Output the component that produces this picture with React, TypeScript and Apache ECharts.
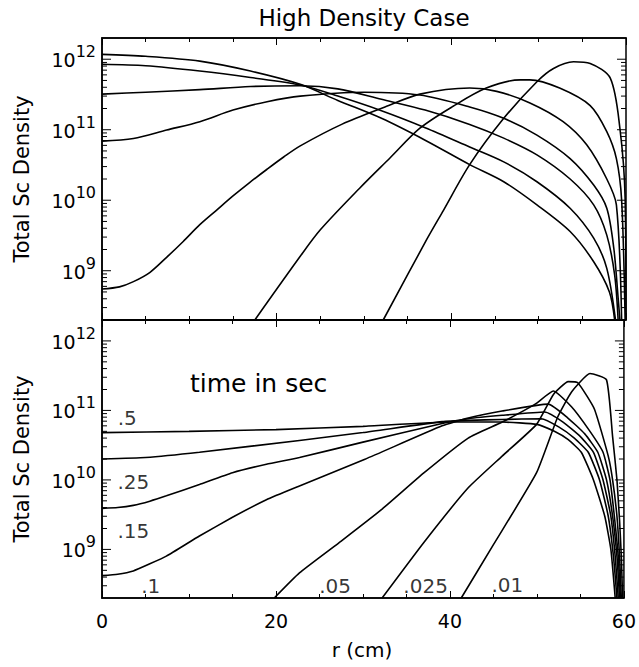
import React, { useEffect, useRef } from 'react';
import * as echarts from 'echarts';

// ---------- data: [r (cm), total Sc density] ----------
// High density case (upper panel)
const topT05: [number, number][] = [[0,1.17e12],[5,1.1e12],[11.2,9.4e11],[17,6.8e11],[22.7,4.4e11],[27,2.6e11],[32,1.45e11],[37,7.1e10],[42.1,3.2e10],[46,1.83e10],[49.8,8.6e9],[53.6,3.6e9],[56.3,1.34e9],[58.1,5.0e8],[58.7,2e8]];
const topT025: [number, number][] = [[0,8.5e11],[5,8.1e11],[11.2,6.8e11],[17,5.5e11],[22.7,4.3e11],[27,3.0e11],[32,1.86e11],[37,1.07e11],[42.1,5.7e10],[46,3.5e10],[49.8,1.83e10],[53.6,7.7e9],[56.3,2.9e9],[57.8,1.08e9],[58.8,2e8]];
const topT015: [number, number][] = [[0,3.2e11],[5,3.4e11],[11.2,3.7e11],[17,4.1e11],[22.7,4.2e11],[27,3.8e11],[32,2.7e11],[37,1.9e11],[42.1,1.19e11],[46,7.6e10],[49.8,4.4e10],[53.6,2.0e10],[56.3,8.6e9],[57.8,3.2e9],[58.7,8.7e8],[59.1,2e8]];
const topT01: [number, number][] = [[0,6.9e10],[3.6,7.5e10],[7.4,9.9e10],[11.2,1.3e11],[15,1.9e11],[18.9,2.5e11],[22.7,3.0e11],[30,3.4e11],[36.4,3.1e11],[42.1,2.1e11],[46,1.45e11],[49.8,8.4e10],[53.6,3.9e10],[56.3,1.64e10],[57.8,7.7e9],[58.6,2.1e9],[59.1,4.1e8],[59.3,2e8]];
const topT005: [number, number][] = [[0,5.5e8],[2,5.9e8],[3.6,7.0e8],[5.5,9.5e8],[7.4,1.55e9],[9.3,2.6e9],[11.2,4.5e9],[13.1,7.2e9],[15,1.15e10],[16.9,1.78e10],[18.9,2.75e10],[20.8,4.1e10],[22.7,5.9e10],[27.5,1.2e11],[32.4,2.1e11],[36.4,3.2e11],[42.1,3.9e11],[45.2,3.5e11],[49,2.4e11],[52.8,1.3e11],[55.5,6.1e10],[57.8,2.0e10],[58.9,8.6e9],[59.5,2e8]];
const topT0025: [number, number][] = [[17.5,2e8],[22.7,1.6e9],[25,3.8e9],[29.5,1.48e10],[33,4.0e10],[36.4,1.05e11],[40.2,2.15e11],[44,3.9e11],[47.9,5.1e11],[49,5.1e11],[52.4,3.9e11],[55.9,2.2e11],[57.8,9.4e10],[58.9,3.9e10],[59.5,1.0e10],[59.9,2e8]];
const topT001: [number, number][] = [[32.2,2e8],[37.2,2.8e9],[39.1,7.2e9],[42.1,3.2e10],[46,1.45e11],[49.8,4.8e11],[51.7,7.4e11],[54,9.2e11],[55.9,8.7e11],[58.2,5.4e11],[59.3,1.05e11],[59.9,1.07e10],[60,2e8]];

// lower panel
const botT05: [number, number][] = [[0,4.8e10],[10,5.0e10],[20,5.3e10],[30,5.9e10],[40,6.8e10],[46,6.8e10],[50,6.3e10],[52,5.0e10],[53.6,3.8e10],[55.1,2.5e10],[56.5,1.0e10],[57.8,3.0e9],[58.5,1.0e9],[59.0,2e8]];
const botT025: [number, number][] = [[0,2.0e10],[5,2.1e10],[11.2,2.5e10],[22.7,3.7e10],[30,4.8e10],[39.1,6.9e10],[42.1,7.2e10],[46,7.4e10],[50.5,7.6e10],[52.5,5.8e10],[54.3,4.0e10],[55.9,2.5e10],[57.2,1.0e10],[58.2,3.0e9],[58.8,7.9e8],[59.2,2e8]];
const botT015: [number, number][] = [[0,3.9e9],[1.8,4.0e9],[3.6,4.3e9],[5.5,4.95e9],[7.4,5.9e9],[11.2,8.6e9],[15,1.27e10],[18.9,1.68e10],[22.7,2.1e10],[30,3.5e10],[39.1,6.5e10],[42.1,7.6e10],[46,8.5e10],[50.9,9.5e10],[53,6.8e10],[55,4.2e10],[56.5,2.5e10],[57.6,1.0e10],[58.5,3.0e9],[59.0,7.9e8],[59.35,2e8]];
const botT01: [number, number][] = [[0,4.2e8],[1.8,4.4e8],[3.6,4.9e8],[5.5,6.2e8],[7.4,8.0e8],[11.2,1.56e9],[15,2.9e9],[18.9,5.2e9],[22.7,8.2e9],[30.3,2.0e10],[39.1,6.0e10],[42.1,7.8e10],[46,9.8e10],[51.3,1.23e11],[53.5,7.9e10],[55.5,4.6e10],[57,2.5e10],[58,1.0e10],[58.7,3.0e9],[59.2,7.9e8],[59.5,2e8]];
const botT005: [number, number][] = [[19.8,2e8],[22.7,4.6e8],[27.5,1.32e9],[32.2,3.8e9],[37,1.26e10],[42.1,4.0e10],[46,6.8e10],[49.8,1.23e11],[51.9,1.9e11],[54,1.12e11],[56,5.2e10],[57.6,2.5e10],[58.4,1.0e10],[58.9,3.0e9],[59.35,7.9e8],[59.6,2e8]];
const botT0025: [number, number][] = [[32.2,2e8],[37,1.26e9],[42.1,7.7e9],[46,2.2e10],[49.96,6.3e10],[51.9,1.7e11],[53.6,2.6e11],[54.7,2.5e11],[56.6,1.05e11],[58.2,2.2e10],[58.7,1.0e10],[59.2,3.0e9],[59.5,7.9e8],[59.7,2e8]];
const botT001: [number, number][] = [[41.3,2e8],[45,1.17e9],[49.96,1.27e10],[52.4,8.1e10],[54,1.86e11],[56.1,3.4e11],[58.0,2.75e11],[58.7,4.2e10],[59.2,1.0e10],[59.5,2.6e9],[59.7,7.9e8],[59.85,2e8]];

// time labels (seconds) in lower panel and where they sit
const timeLabels = ['.5', '.25', '.15', '.1', '.05', '.025', '.01'];
const timeLabelR = [2.9, 3.6, 3.6, 5.6, 26.8, 37.2, 46.6];
const timeLabelDensity = [7.8e10, 9.3e9, 1.84e9, 3.0e8, 3.0e8, 3.0e8, 3.05e8];

const xTicks = [0, 20, 40, 60];
const yMin = 2e8;
const yMax = 2e12;
const titleText = 'High Density Case';
const yTitle = 'Total Sc Density';
const xTitle = 'r (cm)';
const noteText = 'time in sec';

const FONT = '"DejaVu Sans", sans-serif';

export default function App() {
  const ref = useRef<HTMLDivElement>(null);
  useEffect(() => {
    if (!ref.current) return;
    const chart = echarts.init(ref.current, undefined, { renderer: 'svg' });

    const GL = 102, GW = 524;
    const grids = [
      { left: GL, top: 38, width: GW, height: 282 },
      { left: GL, top: 320, width: GW, height: 278 },
    ].map((g) => ({ ...g, show: true, borderColor: '#000', borderWidth: 1.5, backgroundColor: 'transparent' }));

    const tickValues: number[][] = [];
    for (let e = 8; e <= 12; e++) {
      for (let k = 1; k <= 9; k++) {
        const v = k * Math.pow(10, e);
        if (v >= yMin * 1.0001 && v <= yMax * 0.9999) tickValues.push([0, v, k === 1 ? 1 : 0]);
      }
    }

    const isPow10 = (v: number) => {
      const l = Math.log10(v);
      return Math.abs(l - Math.round(l)) < 1e-6;
    };

    const yAxisBase = (gi: number) => ({
      type: 'log',
      logBase: 10,
      gridIndex: gi,
      min: yMin,
      max: yMax,
      splitNumber: 4,
      axisLine: { show: true, lineStyle: { color: '#000', width: 1.5 } },
      axisTick: { show: false },
      splitLine: { show: false },
      axisLabel: {
        margin: 6,
        showMinLabel: false,
        showMaxLabel: false,
        formatter: (v: number) => (isPow10(v) ? `{b|10}{s|${Math.round(Math.log10(v))}}` : ''),
        rich: {
          b: { fontSize: 19, fontFamily: FONT, color: '#000', verticalAlign: 'bottom', lineHeight: 21 },
          s: { fontSize: 16, fontFamily: FONT, color: '#000', verticalAlign: 'bottom', lineHeight: 17, padding: [0, 0, 10, 0] },
        },
      },
    });

    const xAxisBase = (gi: number, pos: string, labels: boolean) => ({
      type: 'value',
      gridIndex: gi,
      position: pos,
      min: 0,
      max: 60,
      interval: 20,
      axisLine: { show: true, lineStyle: { color: '#000', width: 1.5 } },
      axisTick: { show: true, inside: true, length: 7, lineStyle: { color: '#000', width: 1 } },
      minorTick: { show: true, splitNumber: 4, length: 4, lineStyle: { color: '#000', width: 1 } },
      splitLine: { show: false },
      axisLabel: labels
        ? { show: true, margin: 13, fontSize: 19, fontFamily: FONT, color: '#000', formatter: (v: number) => (xTicks.includes(v) ? String(v) : '') }
        : { show: false },
    });

    const lineSeries = (data: [number, number][], gi: number, smooth: number | boolean) => ({
      type: 'line',
      xAxisIndex: gi * 2,
      yAxisIndex: gi,
      data,
      showSymbol: false,
      symbol: 'none',
      smooth,
      clip: true,
      silent: true,
      lineStyle: { color: '#000', width: 1.6 },
    });

    const tickSeries = (gi: number) => ({
      type: 'custom',
      xAxisIndex: gi * 2,
      yAxisIndex: gi,
      silent: true,
      clip: false,
      data: tickValues,
      encode: { x: 0, y: 1 },
      renderItem: (params: any, api: any) => {
        const v = api.value(1);
        const major = api.value(2) === 1;
        const pL = api.coord([0, v]);
        const pR = api.coord([60, v]);
        const len = major ? 9 : 5;
        return {
          type: 'group',
          children: [
            { type: 'line', shape: { x1: pL[0], y1: pL[1], x2: pL[0] + len, y2: pL[1] }, style: { stroke: '#000', lineWidth: 1 } },
            { type: 'line', shape: { x1: pR[0], y1: pR[1], x2: pR[0] - len, y2: pR[1] }, style: { stroke: '#000', lineWidth: 1 } },
          ],
        };
      },
    });

    const topData = [topT05, topT025, topT015, topT01, topT005, topT0025, topT001];
    const botData = [botT05, botT025, botT015, botT01, botT005, botT0025, botT001];

    const option: any = {
      animation: false,
      backgroundColor: '#fff',
      grid: grids,
      xAxis: [xAxisBase(0, 'bottom', false), xAxisBase(0, 'top', false), xAxisBase(1, 'bottom', true), xAxisBase(1, 'top', false)],
      yAxis: [yAxisBase(0), yAxisBase(1)],
      series: [
        ...topData.map((d) => lineSeries(d, 0, 0.3)),
        ...botData.map((d) => lineSeries(d, 1, 0.15)),
        tickSeries(0),
        tickSeries(1),
        {
          type: 'scatter',
          xAxisIndex: 2,
          yAxisIndex: 1,
          symbolSize: 0,
          silent: true,
          data: timeLabels.map((t, i) => ({ value: [timeLabelR[i], timeLabelDensity[i]], name: t })),
          label: {
            show: true,
            position: 'inside',
            formatter: (p: any) => p.name,
            fontSize: 20,
            fontFamily: FONT,
            color: '#000',
          },
        },
      ],
      graphic: [
        { type: 'text', x: 364, y: 18, style: { text: titleText, font: `23px ${FONT}`, fill: '#000', align: 'center', verticalAlign: 'middle' } },
        { type: 'text', x: 22, y: 179, rotation: Math.PI / 2, style: { text: yTitle, font: `21px ${FONT}`, fill: '#000', align: 'center', verticalAlign: 'middle' } },
        { type: 'text', x: 22, y: 459, rotation: Math.PI / 2, style: { text: yTitle, font: `21px ${FONT}`, fill: '#000', align: 'center', verticalAlign: 'middle' } },
        { type: 'text', x: 362, y: 650, style: { text: xTitle, font: `20px ${FONT}`, fill: '#000', align: 'center', verticalAlign: 'middle' } },
        { type: 'text', x: 190, y: 383, style: { text: noteText, font: `25px ${FONT}`, fill: '#000', align: 'left', verticalAlign: 'middle' } },
      ],
    };
    chart.setOption(option);
    return () => chart.dispose();
  }, []);
  return <div ref={ref} style={{ position: 'fixed', left: 0, top: 0, width: 639, height: 667, background: '#fff' }} />;
}
